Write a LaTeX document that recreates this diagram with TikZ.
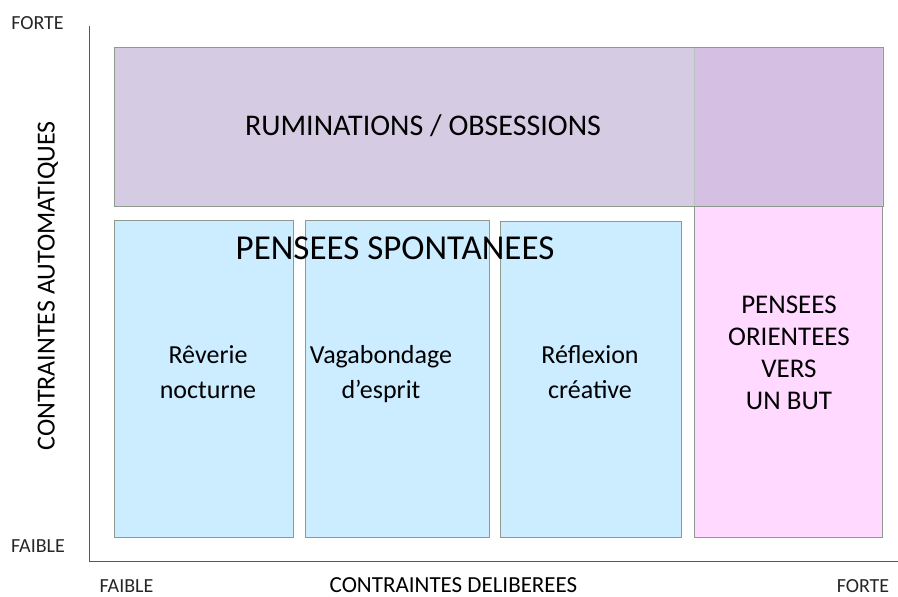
\documentclass[tikz,border=0pt]{standalone}
\usepackage{fontspec}
\setmainfont{Carlito}
\usetikzlibrary{positioning}
\definecolor{violetclair}{HTML}{D5CCE3}
\definecolor{violetfonce}{HTML}{D5BFE2}
\definecolor{rosepale}{HTML}{FFD9FF}
\definecolor{bleupale}{HTML}{CCECFF}
\definecolor{bordgris}{HTML}{8E9A8E}
\definecolor{axegris}{HTML}{595959}

\begin{document}
\begin{tikzpicture}[x=1pt,y=-1pt,bloc/.style={rectangle, draw=bordgris, line width=0.8pt, inner sep=0pt, anchor=north west}]
    \tikzset{petit/.style={font=\fontsize{20}{22}\selectfont, text=black!85, inner sep=0pt, anchor=base}}
    \tikzset{etiq/.style={font=\fontsize{26}{35}\selectfont, align=center, inner sep=0pt}}
    \useasboundingbox (0,0) rectangle (898,597);
    % axes
    \coordinate (origine) at (89,561);
    \coordinate (haut) at (89,26);
    \coordinate (droite) at (898,561);
    \draw[axegris, line width=0.9pt] (haut) -- (origine) -- (droite);

    % zones
    \node[bloc, fill=violetclair, minimum width=769pt, minimum height=159pt] (rumin) at (114,47) {};
    \node[bloc, fill=rosepale, minimum width=188pt, minimum height=331pt] (but) at (694,206) {};
    \node[bloc, fill=violetfonce, draw=none, minimum width=188pt, minimum height=158pt] (mix) at (694,47.5) {};
    \draw[bordgris!60, line width=0.8pt] (mix.north west) -- (mix.south west);
    \draw[bordgris, line width=0.8pt] (rumin.north west) rectangle (rumin.south east);
    \node[bloc, fill=bleupale, minimum width=179pt, minimum height=317pt] (reverie) at (114,220) {};
    \node[bloc, fill=bleupale, minimum width=184pt, minimum height=317pt] (vagab) at (305,220) {};
    \node[bloc, fill=bleupale, minimum width=181pt, minimum height=316pt] (reflex) at (500,221) {};

    % textes
    \node[etiq, font=\fontsize{30}{34}\selectfont, anchor=base] (trumin) at (423,135) {RUMINATIONS / OBSESSIONS};
    \node[etiq, font=\fontsize{35}{40}\selectfont, anchor=base] (tspont) at (395,259) {PENSEES SPONTANEES};
    \node[etiq] (treverie) at (208,374) {\strut Rêverie\\\strut nocturne};
    \node[etiq] (tvagab) at (381,374) {\strut Vagabondage\\\strut d’esprit};
    \node[etiq] (treflex) at (590,374) {\strut Réflexion\\\strut créative};
    \node[etiq, font=\fontsize{27}{32}\selectfont] (tbut) at (789,355) {\strut PENSEES\\\strut ORIENTEES\\\strut VERS\\\strut UN BUT};

    \node[petit] (forteh) at (37.5,29) {FORTE};
    \node[petit] (faibleg) at (38,552) {FAIBLE};
    \node[petit] (faibleb) at (126.5,592) {FAIBLE};
    \node[petit] (forted) at (863,592) {FORTE};
    \node[etiq, font=\fontsize{23}{26}\selectfont, anchor=base] (axex) at (453.5,592) {CONTRAINTES DELIBEREES};
    \node[etiq, font=\fontsize{26}{30}\selectfont, rotate=90] (axey) at (48,286) {CONTRAINTES AUTOMATIQUES};
\end{tikzpicture}
\end{document}
